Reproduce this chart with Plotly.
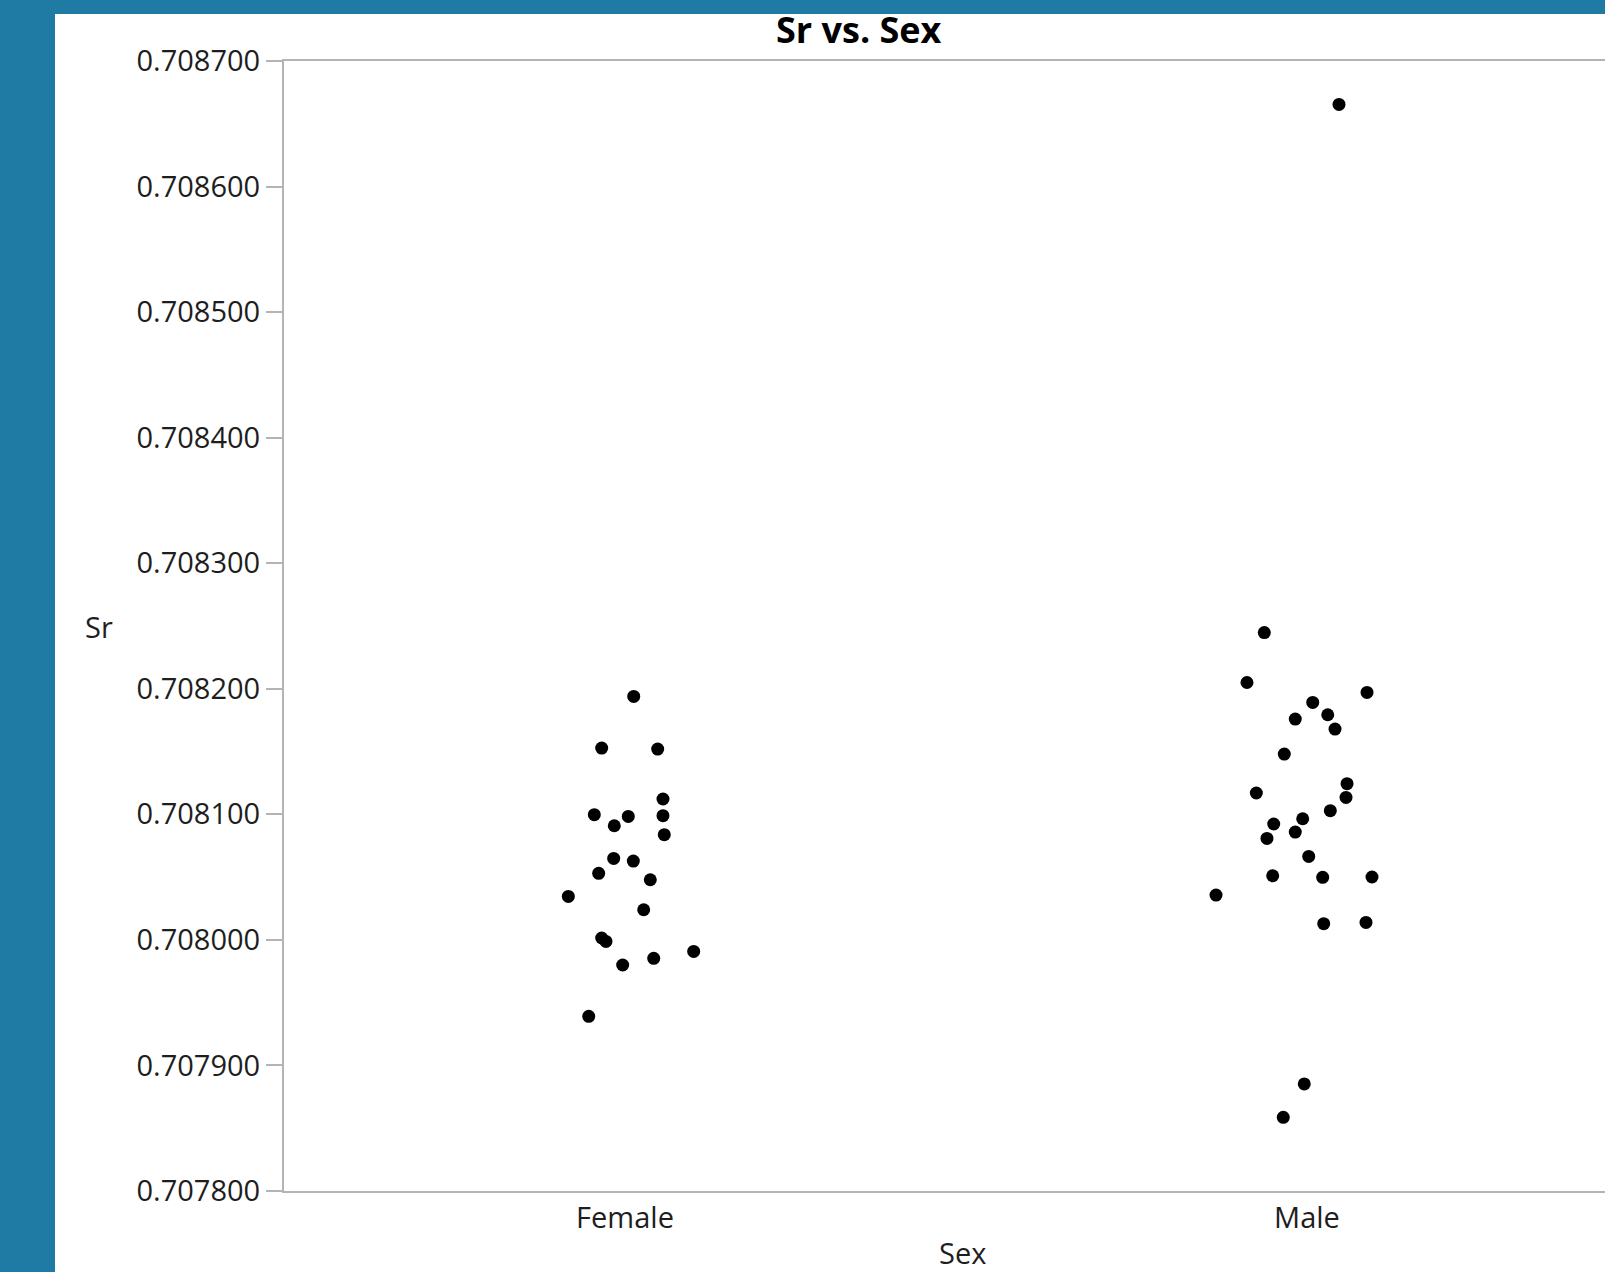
import plotly.graph_objects as go

# ---- data ----
categories = ["Female", "Male"]

female_sr = [0.7081939, 0.7081528, 0.7081520, 0.7081122, 0.7080997, 0.7080983,
             0.7080989, 0.7080909, 0.7080838, 0.7080649, 0.7080628, 0.7080530,
             0.7080479, 0.7080346, 0.7080240, 0.7080015, 0.7079988, 0.7079908,
             0.7079853, 0.7079800, 0.7079391]
female_jitter = [0.0128, -0.0342, 0.0479, 0.0557, -0.0450, 0.0048, 0.0557,
                 -0.0157, 0.0576, -0.0166, 0.0122, -0.0386, 0.0371, -0.0831,
                 0.0274, -0.0342, -0.0279, 0.1007, 0.0421, -0.0034, -0.0532]

male_sr = [0.7086654, 0.7082448, 0.7082050, 0.7081971, 0.7081891, 0.7081759,
           0.7081793, 0.7081679, 0.7081480, 0.7081244, 0.7081170, 0.7081135,
           0.7081029, 0.7080965, 0.7080923, 0.7080859, 0.7080808, 0.7080665,
           0.7080511, 0.7080498, 0.7080501, 0.7080357, 0.7080129, 0.7080139,
           0.7078853, 0.7078587]
male_jitter = [0.0469, -0.0626, -0.0880, 0.0880, 0.0084, -0.0172, 0.0304,
               0.0411, -0.0333, 0.0587, -0.0743, 0.0572, 0.0342, -0.0063,
               -0.0488, -0.0172, -0.0587, 0.0025, -0.0503, 0.0230, 0.0953,
               -0.1334, 0.0245, 0.0865, -0.0040, -0.0348]

y_ticks = [0.7078, 0.7079, 0.7080, 0.7081, 0.7082, 0.7083, 0.7084, 0.7085, 0.7086, 0.7087]

# ---- layout geometry (pixels) ----
W, H = 1605, 1272
L, R, T, B = 284, 0, 61, 81
PW, PH = W - L - R, H - T - B
CAT_PX = 682.0  # pixels per category step


def px_x(px):
    return (px - L) / PW


def px_y(py):
    return (H - B - py) / PH


FONT = "Open Sans, Noto Sans, DejaVu Sans, sans-serif"
TXT = "#1e1e1e"
AXC = "#b4b4b4"
BLUE = "#1f7ba4"

fig = go.Figure()
for i, (vals, jit) in enumerate([(female_sr, female_jitter), (male_sr, male_jitter)]):
    fig.add_trace(go.Scatter(
        x=[i + j for j in jit],
        y=vals,
        mode="markers",
        marker=dict(color="black", size=13, line=dict(width=0)),
        name=categories[i],
        showlegend=False,
        hoverinfo="y",
    ))

fig.update_layout(
    width=W, height=H,
    margin=dict(l=L, r=R, t=T, b=B, pad=0),
    paper_bgcolor=BLUE,
    plot_bgcolor="white",
    font=dict(family=FONT, color=TXT, size=29),
    shapes=[dict(type="rect", xref="paper", yref="paper",
                 x0=px_x(55), x1=px_x(W + 10), y0=px_y(H + 10), y1=px_y(14),
                 fillcolor="white", line=dict(width=0), layer="below")],
    annotations=[
        dict(text="<b>Sr vs. Sex</b>", xref="paper", yref="paper",
             x=px_x(859), y=px_y(29), xanchor="center", yanchor="middle",
             showarrow=False, font=dict(family=FONT, size=36, color="black")),
        dict(text="Sr", xref="paper", yref="paper",
             x=px_x(99), y=px_y(626), xanchor="center", yanchor="middle",
             showarrow=False, font=dict(family=FONT, size=29, color=TXT)),
        dict(text="Sex", xref="paper", yref="paper",
             x=px_x(962), y=px_y(1252), xanchor="center", yanchor="middle",
             showarrow=False, font=dict(family=FONT, size=29, color=TXT)),
    ],
)

fig.update_xaxes(
    range=[-0.5, -0.5 + PW / CAT_PX],
    tickvals=list(range(len(categories))),
    ticktext=categories,
    showgrid=False, zeroline=False,
    showline=True, linecolor=AXC, linewidth=2, mirror=True,
    ticks="", ticklabelstandoff=0,
    tickfont=dict(family=FONT, size=29, color=TXT),
)
fig.update_yaxes(
    range=[y_ticks[0], y_ticks[-1]],
    tickvals=y_ticks,
    tickformat=".6f",
    showgrid=False, zeroline=False,
    showline=True, linecolor=AXC, linewidth=2, mirror=False,
    ticks="outside", ticklen=16, tickwidth=2, tickcolor=AXC,
    ticklabelstandoff=0,
    tickfont=dict(family=FONT, size=29, color=TXT),
)

fig.write_html("out.html")
